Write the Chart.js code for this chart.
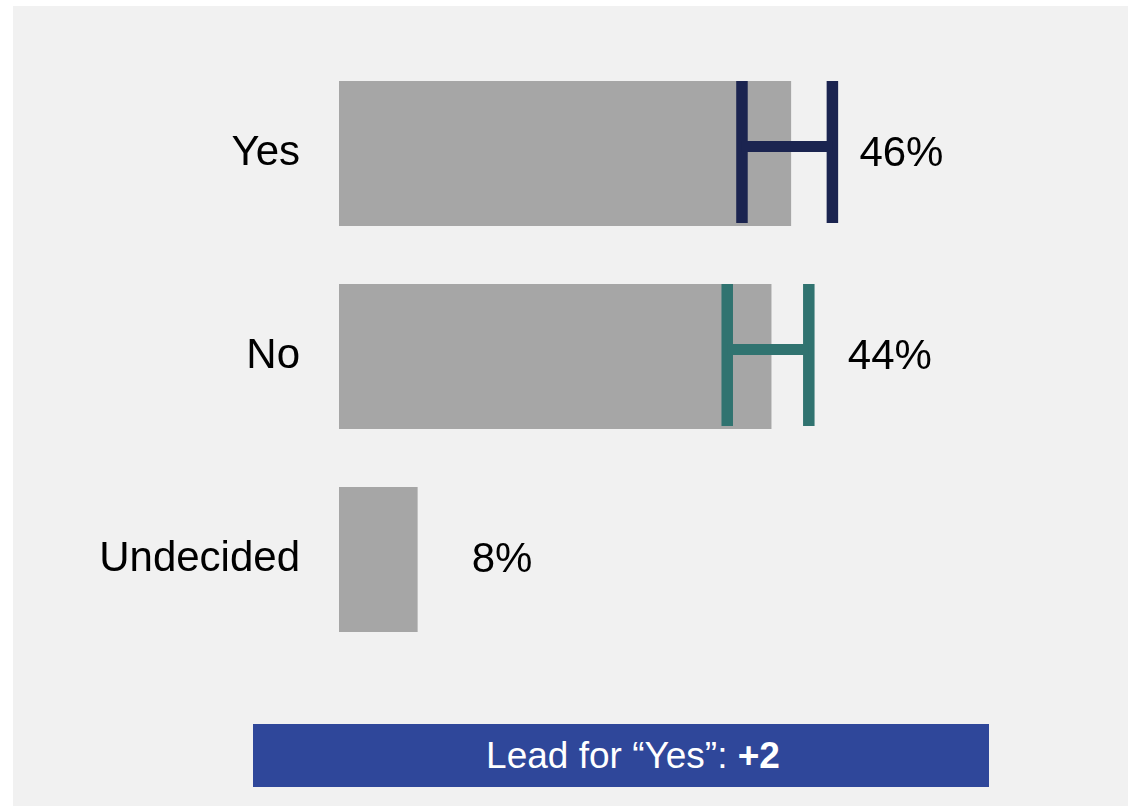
<!DOCTYPE html>
<html>
<head>
<meta charset="utf-8">
<script src="https://cdn.jsdelivr.net/npm/chart.js@4"></script>
<style>
  html, body { margin: 0; padding: 0; background: #ffffff; overflow: hidden; }
  #panel { position: absolute; left: 13px; top: 6px; right: 0; bottom: 0; background: #f1f1f1; }
  #wrap { position: absolute; left: 0; top: 0; width: 1128px; height: 806px; }
  #lead {
    position: absolute; left: 253px; top: 724px; width: 736px; height: 63px;
    box-sizing: border-box; padding-left: 24px;
    background: #2f479a; color: #fff;
    font-family: "Liberation Sans", Arial, sans-serif; font-size: 37px;
    display: flex; align-items: center; justify-content: center;
  }
</style>
</head>
<body>
<div id="panel"></div>
<div id="wrap"><canvas id="chart"></canvas></div>
<div id="lead"></div>
<script>
// Poll results with margin of error
const categories = ['Yes', 'No', 'Undecided'];
const values = [46, 44, 8];
const errLow = [41, 39.5, null];
const errHigh = [50.2, 47.8, null];

const FONT = '"Liberation Sans", Arial, sans-serif';
const errColors = ['#1b2450', '#307370', null];
const labelGap = [27, 39, 54]; // px from bar end / error bar to the % label

// lead banner
const lead = values[0] - values[1];
document.getElementById('lead').innerHTML =
  'Lead for \u201CYes\u201D:&nbsp;<b>' + (lead >= 0 ? '+' : '') + lead + '</b>';

const errorBars = {
  id: 'errorBars',
  afterDatasetsDraw(chart) {
    const ctx = chart.ctx;
    const x = chart.scales.x;
    const meta = chart.getDatasetMeta(0);
    meta.data.forEach((bar, i) => {
      if (errLow[i] == null) return;
      const xl = x.getPixelForValue(errLow[i]);
      const xr = x.getPixelForValue(errHigh[i]);
      const top = bar.y - bar.height / 2;
      const bottom = bar.y + bar.height / 2 - 3;
      ctx.save();
      ctx.strokeStyle = errColors[i];
      ctx.lineWidth = 11.5;
      ctx.lineCap = 'butt';
      ctx.beginPath();
      ctx.moveTo(xl, top); ctx.lineTo(xl, bottom);
      ctx.moveTo(xr, top); ctx.lineTo(xr, bottom);
      ctx.stroke();
      ctx.lineWidth = 11;
      ctx.beginPath();
      ctx.moveTo(xl, bar.y - 7); ctx.lineTo(xr, bar.y - 7);
      ctx.stroke();
      ctx.restore();
    });
  }
};

const valueLabels = {
  id: 'valueLabels',
  afterDatasetsDraw(chart) {
    const ctx = chart.ctx;
    const x = chart.scales.x;
    const meta = chart.getDatasetMeta(0);
    ctx.save();
    ctx.font = '42px ' + FONT;
    ctx.fillStyle = '#000';
    ctx.textAlign = 'left';
    ctx.textBaseline = 'middle';
    meta.data.forEach((bar, i) => {
      const anchor = errHigh[i] != null ? x.getPixelForValue(errHigh[i]) : bar.x;
      ctx.fillText(values[i] + '%', anchor + labelGap[i], bar.y + 1);
    });
    ctx.restore();
  }
};

new Chart(document.getElementById('chart'), {
  type: 'bar',
  data: {
    labels: categories,
    datasets: [{
      data: values,
      backgroundColor: '#a6a6a6',
      borderWidth: 0,
      barPercentage: 0.714,
      categoryPercentage: 1
    }]
  },
  options: {
    indexAxis: 'y',
    responsive: true,
    maintainAspectRatio: false,
    animation: false,
    layout: { padding: { top: 52, bottom: 145, left: 0, right: 101 } },
    plugins: { legend: { display: false }, tooltip: { enabled: false } },
    scales: {
      x: { min: 0, max: 70, display: false },
      y: {
        grid: { display: false, drawTicks: false, tickLength: 0 },
        border: { display: false },
        ticks: { color: '#000', padding: 39, font: { size: 42, family: FONT } },
        afterFit: s => { s.width = 339; s.paddingTop = 0; s.paddingBottom = 0; }
      }
    }
  },
  plugins: [errorBars, valueLabels]
});
</script>
</body>
</html>
